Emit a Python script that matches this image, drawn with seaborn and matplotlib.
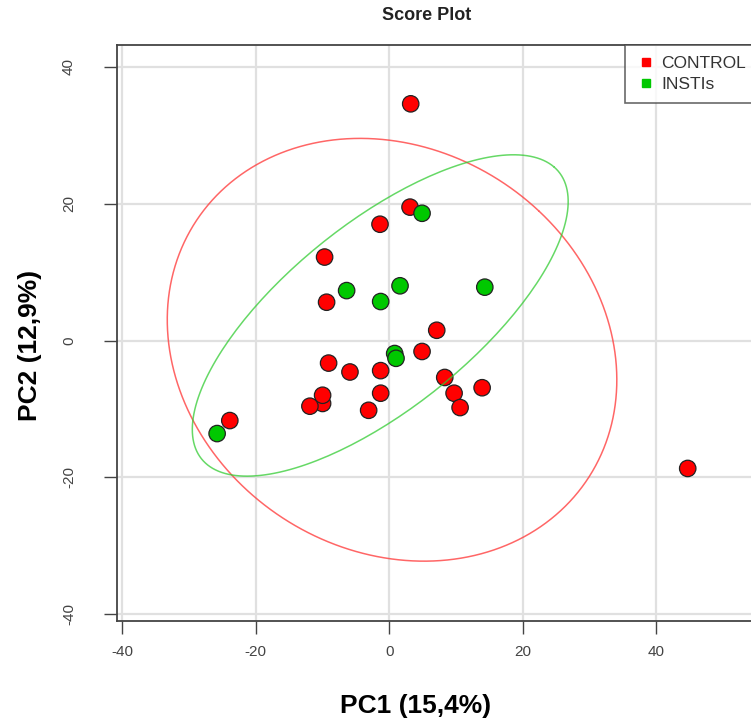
import numpy as np
import pandas as pd
import matplotlib
matplotlib.use("Agg")
import matplotlib.pyplot as plt
from matplotlib.lines import Line2D
import seaborn as sns

# PCA scores per sample
control_pc1 = [3.2, 3.1, -1.4, -9.7, -9.4, 7.1, 4.9, -9.1, -5.9, -1.3, 8.3,
               -1.3, 9.7, 13.9, -10.0, -11.9, -10.0, -3.1, 10.6, -23.9, 44.7]
control_pc2 = [34.6, 19.5, 17.0, 12.2, 5.6, 1.5, -1.6, -3.3, -4.6, -4.4, -5.4,
               -7.7, -7.7, -6.9, -9.2, -9.6, -8.0, -10.2, -9.8, -11.7, -18.7]
insti_pc1 = [4.9, -6.4, -1.3, 1.6, 14.3, 0.8, 1.0, -25.8]
insti_pc2 = [18.6, 7.3, 5.7, 8.0, 7.8, -1.9, -2.6, -13.6]

groups = ["CONTROL", "INSTIs"]
group_colors = {"CONTROL": "#FF0000", "INSTIs": "#00C800"}
ellipse_colors = {"CONTROL": (1.0, 0.25, 0.25, 0.8), "INSTIs": (0.2, 0.8, 0.2, 0.75)}

x_ticks = [-40, -20, 0, 20, 40]
y_ticks = [-40, -20, 0, 20, 40]

df = pd.DataFrame({
    "PC1": control_pc1 + insti_pc1,
    "PC2": control_pc2 + insti_pc2,
    "Group": ["CONTROL"] * len(control_pc1) + ["INSTIs"] * len(insti_pc1),
})


def conf_ellipse(x, y, level=0.95, npoints=200):
    """95% confidence ellipse, same parametrisation as R's ellipse()."""
    x = np.asarray(x, float)
    y = np.asarray(y, float)
    cov = np.cov(x, y)
    sx, sy = np.sqrt(np.diag(cov))
    r = cov[0, 1] / (sx * sy)
    d = np.arccos(r)
    t = np.sqrt(-2.0 * np.log(1.0 - level))
    a = np.linspace(0, 2 * np.pi, npoints)
    return (t * sx * np.cos(a + d / 2) + x.mean(),
            t * sy * np.cos(a - d / 2) + y.mean())


sns.set_theme(style="white")
plt.rcParams["font.family"] = ["Liberation Sans", "DejaVu Sans"]
plt.rcParams["axes.unicode_minus"] = False

W, H = 751, 721
fig = plt.figure(figsize=(W / 100, H / 100), dpi=100)

# plot region in pixels; the right side runs past the canvas edge
left_px, top_px, bottom_px = 117, 45, 621
xlim = (-40.8, 58.0)
ylim = (-41.0, 43.2)
px_per_x = 6.675
right_px = left_px + (xlim[1] - xlim[0]) * px_per_x
ax = fig.add_axes([left_px / W, 1 - bottom_px / H,
                   (right_px - left_px) / W, (bottom_px - top_px) / H])
ax.set_xlim(*xlim)
ax.set_ylim(*ylim)

ax.set_xticks(x_ticks)
ax.set_yticks(y_ticks)
ax.grid(True, color="#E0E0E0", linewidth=1.6, zorder=0)
ax.set_axisbelow(True)

sns.scatterplot(data=df, x="PC1", y="PC2", hue="Group", palette=group_colors,
                s=140, edgecolor="#222222", linewidth=0.9, legend=False,
                ax=ax, zorder=3)

for g in groups:
    sub = df[df["Group"] == g]
    ex, ey = conf_ellipse(sub["PC1"], sub["PC2"])
    ax.plot(ex, ey, color=ellipse_colors[g], linewidth=1.1, zorder=4)

for side in ["left", "bottom", "top", "right"]:
    ax.spines[side].set_color("#444444")
    ax.spines[side].set_linewidth(1.3)

ax.tick_params(axis="x", direction="out", length=9.5, width=1.0, color="#444444",
               labelsize=11, labelcolor="#444444", pad=8, bottom=True)
ax.tick_params(axis="y", direction="out", length=9.5, width=1.0, color="#444444",
               labelsize=11, labelcolor="#444444", pad=20, left=True)
for lab in ax.get_yticklabels():
    lab.set_rotation(90)
    lab.set_va("center")
ax.set_xlabel("")
ax.set_ylabel("")

fig.text(416 / W, 1 - 706 / H, "PC1 (15,4%)", ha="center", va="center",
         fontsize=19, fontweight="bold", color="black")
fig.text(30 / W, 1 - 345 / H, "PC2 (12,9%)", ha="center", va="center",
         rotation=90, fontsize=19, fontweight="bold", color="black")
fig.text(426.5 / W, 1 - 16 / H, "Score Plot", ha="center", va="center",
         fontsize=13, fontweight="bold", color="#222222")

handles = [Line2D([0], [0], marker="s", linestyle="", markersize=6,
                  markerfacecolor=group_colors[g], markeredgecolor=group_colors[g],
                  label=g) for g in groups]
leg_x = (625 - left_px) / (right_px - left_px)
leg = ax.legend(handles=handles, loc="upper left", bbox_to_anchor=(leg_x, 1.0),
                frameon=True, fancybox=False, fontsize=12.5, handletextpad=0.35,
                borderpad=0.65, labelspacing=0.3, handlelength=1.1,
                borderaxespad=0)
leg.get_frame().set_edgecolor("#444444")
leg.get_frame().set_linewidth(1.2)
for t in leg.get_texts():
    t.set_color("#333333")
leg.set_zorder(6)

fig.savefig("out.png", dpi=100)
